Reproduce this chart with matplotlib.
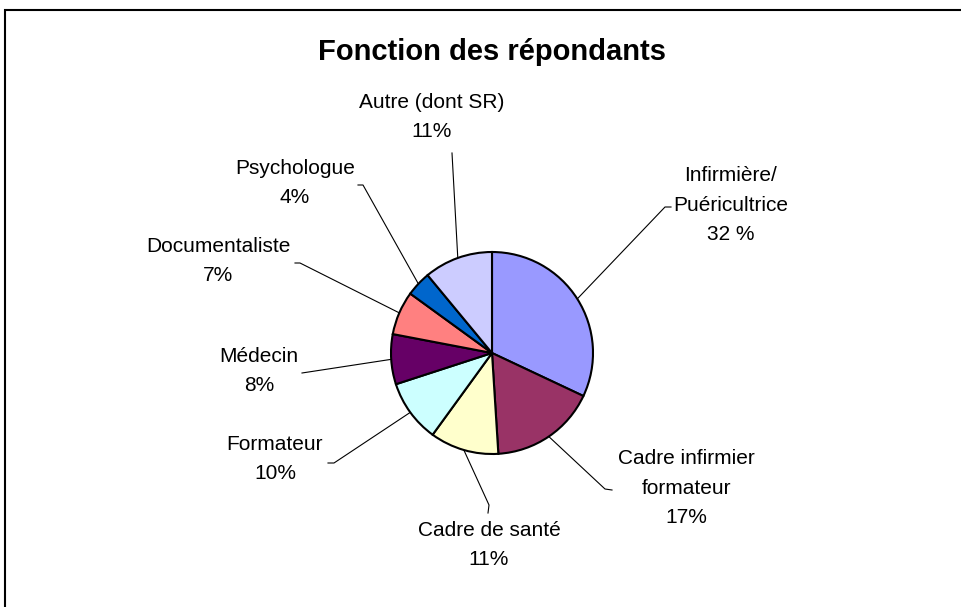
import numpy as np
import matplotlib.pyplot as plt
from matplotlib.patches import Rectangle

plt.rcParams['font.family'] = ['Liberation Sans', 'DejaVu Sans']

# data
labels = ["Infirmière/\nPuéricultrice", "Cadre infirmier\nformateur", "Cadre de santé",
          "Formateur", "Médecin", "Documentaliste", "Psychologue", "Autre (dont SR)"]
values = [32, 17, 11, 10, 8, 7, 4, 11]
pct_text = ["32 %", "17%", "11%", "10%", "8%", "7%", "4%", "11%"]
colors = ["#9999FF", "#993366", "#FFFFCC", "#CCFFFF", "#660066", "#FF8080", "#0066CC", "#CCCCFF"]

# pixel layout helpers (center of pie at 492,353, radius 101 px)
CX, CY, R = 492, 353, 101


def d(px, py):
    return (px - CX) / R, (CY - py) / R


# label block centers and leader elbows, in pixels
label_pos = [(731, 205), (686, 488), (489, 545), (275, 459),
             (259, 371), (218, 261), (295, 183), (432, 117)]
elbows = [[(665, 207), (671, 207)], [(605, 489), (612, 490)], [(489, 505), (488, 513)],
          [(334, 463), (328, 463)], [(302, 373)], [(300, 263), (295, 263)],
          [(363, 185), (358, 185)], [(452, 153)]]

fig = plt.figure(figsize=(9.62, 6.07), dpi=100)
ax = fig.add_axes([0, 0, 1, 1])
ax.axis('off')

wedges, _ = ax.pie(values, colors=colors, startangle=90, counterclock=False, radius=1,
                   wedgeprops=dict(edgecolor='black', linewidth=1.5))
ax.set_xlim(-CX / R, (962 - CX) / R)
ax.set_ylim((CY - 607) / R, CY / R)
ax.set_aspect('auto')

for i, w in enumerate(wedges):
    mid = np.deg2rad((w.theta1 + w.theta2) / 2)
    xs = [np.cos(mid)]
    ys = [np.sin(mid)]
    for p in elbows[i]:
        x, y = d(*p)
        xs.append(x)
        ys.append(y)
    ax.plot(xs, ys, color='black', lw=0.8, zorder=0)
    tx, ty = d(*label_pos[i])
    ax.text(tx, ty, labels[i] + "\n" + pct_text[i], ha='center', va='center',
            fontsize=15, linespacing=1.72)

tx, ty = d(492, 52)
ax.text(tx, ty, "Fonction des répondants", ha='center', va='center',
        fontsize=21, fontweight='bold')

fig.patches.append(Rectangle((5 / 962, -0.1), 2, 1 - 10 / 607 + 0.1, transform=fig.transFigure,
                             fill=False, edgecolor='black', linewidth=1.5))

fig.savefig("out.png", dpi=100)
